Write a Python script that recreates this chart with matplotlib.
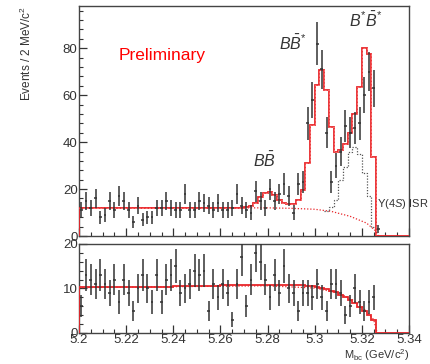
import numpy as np
import matplotlib.pyplot as plt
from matplotlib.ticker import MultipleLocator, FixedLocator

plt.rcParams["font.family"] = ["Liberation Sans", "DejaVu Sans"]
plt.rcParams["mathtext.fontset"] = "custom"
plt.rcParams["mathtext.rm"] = "Liberation Sans"
plt.rcParams["mathtext.it"] = "Liberation Sans:italic"

# Mbc histogram: 2 MeV bins from 5.20 to 5.34 GeV
mbc_lo, mbc_hi, bin_w = 5.20, 5.34, 0.002

# signal region data (top), bins starting at 5.200
top_counts = [11, 15, 12, 16, 8, 9, 15, 11, 17, 15,
              11, 6, 13, 7, 8, 8, 12, 12, 15, 12,
              11, 11, 18, 11, 11, 15, 14, 13, 11, 14,
              11, 11, 12, 18, 13, 11, 10, 19, 15, 12,
              20, 15, 18, 22, 17, 10, 22, 23, 48, 58,
              82, 71, 44, 23, 30, 36, 47, 44, 46, 48,
              60, 70, 63, 3]

# total fit per bin (top)
top_fit = [11.9, 11.9, 11.9, 11.9, 11.9, 11.9, 11.9, 11.9, 11.9, 11.9,
           11.9, 11.9, 11.9, 11.9, 11.9, 11.9, 11.9, 11.9, 11.9, 11.9,
           11.9, 11.9, 11.9, 11.9, 11.9, 11.9, 11.9, 11.9, 11.9, 11.9,
           11.9, 11.9, 11.9, 11.9, 12.0, 12.3, 13.0, 14.2, 16.7, 18.4,
           18.9, 17.4, 15.3, 14.2, 13.6, 13.6, 15.3, 19.6, 30.9, 47.2,
           64.3, 70.6, 62.1, 46.5, 35.9, 36.5, 39.4, 43.7, 52.2, 63.5,
           79.9, 77.7, 33.7, 0, 0, 0, 0, 0, 0, 0]

# B* B*bar component (+ background), bins 52..63
bsbs_first_bin = 52
bsbs_fit = [10.5, 12.5, 15.5, 24.0, 29.5, 36.0, 38.0, 35.0, 27.0, 17.0, 4.0, 0.0]

# Upsilon(4S) ISR background (top), read at a few masses
isr_x = [5.200, 5.280, 5.290, 5.300, 5.307, 5.315, 5.322, 5.3255, 5.327]
isr_y = [12.0, 12.0, 11.8, 11.4, 10.5, 8.4, 5.5, 2.5, 0.0]

# sideband data (bottom)
bot_counts = [6, 13, 12, 11, 13, 11, 9, 12, 7, 12,
              9, 5, 10, 13, 10, 7, 13, 7, 12, 13,
              15, 9, 10, 11, 14, 13, 14, 5, 11, 8,
              11, 9, 3, 11, 17, 6, 12, 18, 16, 12,
              8, 13, 9, 15, 10, 9, 5, 9, 9, 8,
              11, 8, 5, 11, 11, 9, 4, 6, 10, 7,
              5, 7, 8]

bot_fit = [10.3, 10.3, 10.3, 10.3, 10.3, 10.3, 10.3, 10.3, 10.3, 10.3,
           10.4, 10.4, 10.4, 10.4, 10.4, 10.4, 10.4, 10.4, 10.4, 10.4,
           10.5, 10.5, 10.5, 10.5, 10.5, 10.5, 10.5, 10.5, 10.5, 10.5,
           10.7, 10.7, 10.7, 10.7, 10.7, 10.7, 10.7, 10.7, 10.7, 10.7,
           10.8, 10.8, 10.8, 10.8, 10.8, 10.8, 10.8, 10.7, 10.6, 10.5,
           10.3, 10.1, 9.8, 9.5, 9.1, 8.6, 8.0, 7.4, 6.7, 5.9,
           5.0, 4.0, 2.9, 0, 0, 0, 0, 0, 0, 0]

bot_bkg_x = [5.200, 5.280, 5.300, 5.310, 5.315, 5.320, 5.325, 5.3265]
bot_bkg_y = [10.2, 10.6, 10.1, 9.0, 7.8, 6.0, 3.0, 0.0]

xtick_vals = [5.20, 5.22, 5.24, 5.26, 5.28, 5.30, 5.32, 5.34]
xtick_labels = ["5.2", "5.22", "5.24", "5.26", "5.28", "5.3", "5.32", "5.34"]

RED = "#e8262a"
INK = "#333333"

edges = np.linspace(mbc_lo, mbc_hi, len(top_fit) + 1)
centers = edges[:-1] + bin_w / 2

fig = plt.figure(figsize=(4.31, 3.64), dpi=100)
ax_top = fig.add_axes([0.1833, 0.3516, 0.7657, 0.6319])
ax_bot = fig.add_axes([0.1833, 0.0852, 0.7657, 0.2445])

# ---- top panel
ax_top.plot(isr_x, isr_y, color=RED, linestyle=(0, (1, 1.5)), linewidth=0.9, zorder=2)
bs_edges = edges[bsbs_first_bin:bsbs_first_bin + len(bsbs_fit) + 1]
ax_top.stairs(bsbs_fit, bs_edges, baseline=None, color="#555555",
              linestyle=(0, (1, 1.3)), linewidth=0.9, zorder=2)
ax_top.stairs(top_fit, edges, baseline=0, color=RED, linewidth=1.3, zorder=3)
ax_top.stairs(top_fit, edges, baseline=None, color="#ff8a8a",
              linestyle=(0, (3, 2)), linewidth=0.5, zorder=3)
tc = np.array(top_counts, dtype=float)
ax_top.errorbar(centers[:len(tc)], tc, yerr=np.sqrt(tc), xerr=0.0006,
                fmt="none", ecolor=INK, elinewidth=1.1, zorder=4)
ax_top.set_ylim(0, 98)
ax_top.yaxis.set_major_locator(FixedLocator([0, 20, 40, 60, 80]))
ax_top.yaxis.set_minor_locator(MultipleLocator(4))
ax_top.set_ylabel("Events / 2 MeV/c$^2$", fontsize=8.5, color=INK)
ax_top.yaxis.set_label_coords(-0.135, 1.0)
ax_top.yaxis.label.set_horizontalalignment("right")
ax_top.tick_params(axis="x", labelbottom=False)

ax_top.text(5.2166, 77, "Preliminary", color="red", fontsize=12.5, va="center")
ax_top.text(5.2785, 32, r"$B\bar{B}$", fontsize=11.5, ha="center", va="center", color=INK)
ax_top.text(5.2905, 82, r"$B\bar{B}^{*}$", fontsize=11.5, ha="center", va="center", color=INK)
ax_top.text(5.3215, 92, r"$B^{*}\bar{B}^{*}$", fontsize=11.5, ha="center", va="center", color=INK)
ax_top.text(5.3263, 13.5, "\u03a5(4$S$) ISR", fontsize=8, va="center", color=INK,
            clip_on=False)

# ---- bottom panel
ax_bot.plot(bot_bkg_x, bot_bkg_y, color=RED, linestyle=(0, (1, 1.5)), linewidth=0.9, zorder=2)
ax_bot.stairs(bot_fit, edges, baseline=0, color=RED, linewidth=1.3, zorder=3)
bc = np.array(bot_counts, dtype=float)
ax_bot.errorbar(centers[:len(bc)], bc, yerr=np.sqrt(bc), xerr=0.0006,
                fmt="none", ecolor=INK, elinewidth=1.1, zorder=4)
ax_bot.set_ylim(0, 20)
ax_bot.yaxis.set_major_locator(FixedLocator([0, 10, 20]))
ax_bot.yaxis.set_minor_locator(MultipleLocator(2))
ax_bot.set_xticks(xtick_vals)
ax_bot.set_xticklabels(xtick_labels)
fig.text(0.949, 0.004, r"M$_{\rm bc}$ (GeV/c$^2$)", ha="right", va="bottom",
         fontsize=8, color=INK)

for ax in (ax_top, ax_bot):
    ax.set_xlim(mbc_lo, mbc_hi)
    ax.xaxis.set_minor_locator(MultipleLocator(0.005))
    ax.tick_params(which="both", direction="in", top=False, right=False,
                   colors=INK, labelsize=9.5, pad=1)
    ax.tick_params(which="major", length=6, width=0.9)
    ax.tick_params(which="minor", length=3, width=0.8)
    for s in ax.spines.values():
        s.set_color("#444444")
        s.set_linewidth(1.0)

fig.savefig("out.png", dpi=100)
